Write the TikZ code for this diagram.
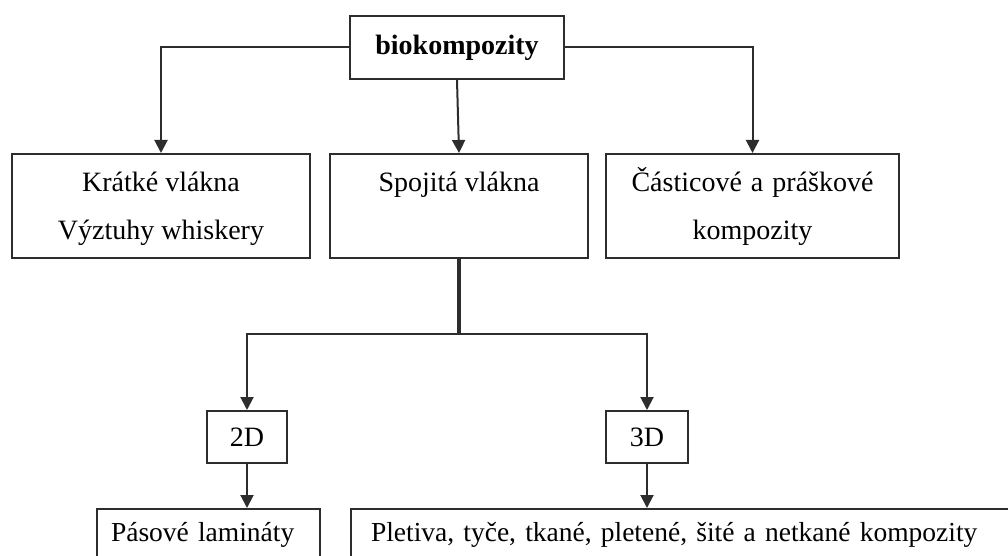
\documentclass[tikz,border=0pt]{standalone}
\usepackage{fontspec}
\setmainfont{Liberation Serif}
\usetikzlibrary{positioning,arrows.meta}
\definecolor{cline}{RGB}{45,45,45}

\begin{document}
\begin{tikzpicture}[
    x=1pt, y=-1pt,
    box/.style={draw=cline, line width=2pt, inner sep=0pt, align=center,
                font=\fontsize{28}{48}\selectfont},
    leaf/.style={draw=cline, line width=2pt, anchor=north west, inner ysep=0pt,
                 text height=32pt, text depth=60pt, align=left,
                 font=\fontsize{27.5}{48}\selectfont},
    link/.style={-{Triangle[width=13pt,length=13pt]}, line width=2pt, cline}
  ]
  \useasboundingbox (0,0) rectangle (1008,556);
  \clip (0,0) rectangle (1008,556);

  \node[box, minimum width=214pt, minimum height=63pt,
        font=\fontsize{28}{32}\selectfont\bfseries] (bio) at (457,47.5) {biokompozity};

  \node[box, minimum width=298pt, minimum height=104pt] (short) at (161,206)
    {\strut Krátké vlákna\\\strut Výztuhy whiskery};
  \node[box, minimum width=258pt, minimum height=104pt] (cont) at (459,206)
    {\strut Spojitá vlákna\\\strut};
  \node[box, minimum width=293pt, minimum height=104pt] (part) at (752.5,206)
    {\strut\makebox[242pt][s]{Částicové a práškové}\\\strut kompozity};

  \node[box, minimum width=80pt, minimum height=52pt,
        font=\fontsize{28}{32}\selectfont] (twod) at (247,437) {2D};
  \node[box, minimum width=82pt, minimum height=52pt,
        font=\fontsize{28}{32}\selectfont] (threed) at (647,437) {3D};

  \node[leaf, text width=195pt, inner xsep=14pt] (lam) at (96,508) {Pásové lamináty};
  \node[leaf, text width=660pt, inner xsep=20pt] (weave) at (350,508)
    {\makebox[613pt][s]{Pletiva, tyče, tkané, pletené, šité a netkané kompozity}};

  \coordinate[below=75pt of cont.south] (fork);

  \draw[link] (bio.west) -| (short.north);
  \draw[link] (bio.east) -| (part.north);
  \draw[link] (bio.south) -- (cont.north);
  \draw[cline, line width=3.5pt] (cont.south) -- (fork);
  \draw[link] (fork) -| (twod.north);
  \draw[link] (fork) -| (threed.north);
  \draw[link] (twod.south) -- (twod.south |- lam.north);
  \draw[link] (threed.south) -- (threed.south |- weave.north);
\end{tikzpicture}
\end{document}
